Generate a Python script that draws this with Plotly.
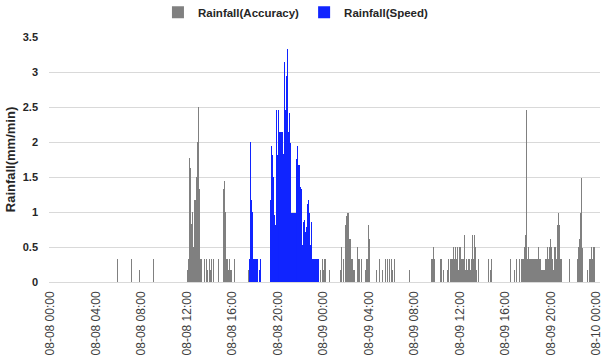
import pandas as pd
import plotly.graph_objects as go

YEAR = "2021"

# Rainfall(Accuracy): runs of consecutive 5-minute readings (start, values)
acc_run_start = [
    "08-08 05:55", "08-08 07:05", "08-08 07:50", "08-08 09:05",
    "08-08 12:05", "08-08 13:30", "08-08 13:45", "08-08 14:00",
    "08-08 14:20", "08-08 14:45", "08-08 15:15", "08-08 16:10",
    "08-08 17:25", "08-08 23:45", "08-08 23:55", "08-09 00:30",
    "08-09 01:30", "08-09 03:00", "08-09 03:40", "08-09 04:40",
    "08-09 04:55", "08-09 05:10", "08-09 05:25", "08-09 05:35",
    "08-09 05:50", "08-09 06:00", "08-09 06:15", "08-09 07:35",
    "08-09 09:30", "08-09 10:15", "08-09 10:35", "08-09 10:55",
    "08-09 13:40", "08-09 14:30", "08-09 14:40", "08-09 16:25",
    "08-09 16:45", "08-09 17:00", "08-09 17:15", "08-09 17:25",
    "08-09 21:40", "08-09 22:20", "08-09 23:15", "08-09 23:25",
]
acc_run_values = [
    [0.33], [0.33], [0.17], [0.33],
    [0.17, 0.33, 1.77, 1.63, 0.83, 1.0, 0.5, 1.17, 1.17, 1.5, 2.0, 2.5, 1.33, 0.33, 0.33],
    [0.33], [0.33, 0.17], [0.33, 0.17, 0.33],
    [0.33], [0.33],
    [1.33, 1.45, 1.0, 0.33, 0.33, 0.17, 0.33, 0.17, 0.17],
    [0.33],
    [0.17], [0.17], [0.33, 0.17, 0.33, 0.33], [0.17],
    [0.17, 0.5, 0, 0.33, 0, 0.81, 0.95, 0.98, 0.98, 0.62, 0.62, 0.17, 0.33, 0.33, 0.17, 0.17],
    [0.5, 0.33, 0.33, 0, 0.33],
    [0.17, 0.33, 0.33, 0.81, 0.62],
    [0.17],
    [0.33], [0.17], [0.33], [0.33, 0.17],
    [0.33], [0.33, 0.17], [0.33], [0.17],
    [0.33, 0.33, 0.5, 0.33], [0.33, 0.33], [0.17],
    [0.17, 0.33, 0, 0.33, 0.33, 0.33, 0.5, 0.33, 0.5, 0.33, 0.5, 0.17, 0.33, 0.5, 0.5, 0.33,
     0.33, 0.33, 0.67, 0.17, 0.33, 0.17, 0.33, 0.33, 0.17, 0.33, 0.67, 0.33, 0.67, 0.5, 0.17],
    [0.33], [0.33], [0.17, 0.33], [0.33],
    [0.17], [0.33], [0.33],
    [0.33, 0.33, 0.33, 0.5, 0.67, 2.46, 0.33, 0.5, 0.33, 0.33, 0.33, 0.33, 0.33, 0.33, 0.33,
     0.33, 0.33, 0.33, 0.5, 0.33, 0.33, 0.17, 0.17, 0.17, 0.17, 0.33, 0.33, 0.5, 0.33, 0.5,
     0.62, 0.5, 0.5, 0.33, 0.17, 0.5, 0.5, 0.33, 0.81, 0.98, 0.81, 0.33, 0.33],
    [0.33], [0.33, 0.5, 0.62, 0.98, 1.49, 0.48], [0.17],
    [0.33, 0.33, 0.5, 0.33, 0.5, 0.5],
]

# Rainfall(Speed): runs of consecutive 5-minute readings (start, values)
spd_run_start = ["08-08 17:30", "08-08 18:25", "08-08 19:20"]
spd_run_values = [
    [0.33, 2.0, 1.17, 1.0, 0.33, 0.33, 0.33, 0.33, 0.33],
    [0.17, 0.33],
    [1.17, 1.95, 1.81, 1.5, 0.96, 0.81, 2.46, 1.81, 2.15, 2.46, 2.15, 2.15, 2.15, 2.15,
     1.83, 3.15, 2.46, 2.95, 3.33, 2.15, 2.41, 1.98, 0.98, 0.98, 0.98, 0.98, 0.98, 1.67,
     1.76, 1.95, 1.67, 1.67, 1.36, 1.33, 0.53, 0.86, 0.88, 0.72, 0.79, 1.12, 1.17, 0.98,
     0.53, 0.86, 0.33, 0.33, 0.33, 0.17, 0.33, 0.33, 0.33, 0.33],
]

series_names = ["Rainfall(Accuracy)", "Rainfall(Speed)"]
series_colors = ["rgba(127,127,127,0.995)", "rgba(15,35,255,0.995)"]


def expand(starts, runs):
    times, vals = [], []
    for s, run in zip(starts, runs):
        ts = pd.date_range(pd.Timestamp(f"{YEAR}-{s}"), periods=len(run), freq="5min")
        times.extend(ts)
        vals.extend(run)
    return times, vals


acc_t, acc_v = expand(acc_run_start, acc_run_values)
spd_t, spd_v = expand(spd_run_start, spd_run_values)

x_start = pd.Timestamp(f"{YEAR}-08-07 23:52:05")
x_end = pd.Timestamp(f"{YEAR}-08-10 00:18:30")
plot_px = 551
bar_ms = (x_end - x_start).total_seconds() * 1000 / plot_px

FONT = "Liberation Sans, Arial, sans-serif"

fig = go.Figure()
for (t, v), name, col in zip([(acc_t, acc_v), (spd_t, spd_v)], series_names, series_colors):
    fig.add_trace(go.Bar(x=t, y=v, name=name, width=bar_ms,
                         marker=dict(color=col, line=dict(width=0))))

fig.update_layout(
    width=604, height=358,
    margin=dict(l=49, r=4, t=37, b=76, autoexpand=False),
    paper_bgcolor="white", plot_bgcolor="white",
    barmode="overlay", bargap=0,
    font=dict(family=FONT, color="#333333"),
    showlegend=True,
    legend=dict(orientation="h", xref="container", yref="container",
                x=0.49, xanchor="center", y=0.966, yanchor="middle",
                font=dict(size=11.5, family=FONT, color="#262626", weight="bold"),
                itemwidth=30, bgcolor="rgba(0,0,0,0)"),
    xaxis=dict(
        type="date", range=[x_start, x_end], automargin=False,
        tick0=f"{YEAR}-08-08 00:00", dtick=4 * 3600 * 1000,
        tickformat="%m-%d %H:%M", tickangle=-90,
        tickfont=dict(size=12, color="#404040"),
        showgrid=False, showline=False, zeroline=False, ticks="",
        ticklabelstandoff=6,
    ),
    yaxis=dict(
        range=[0, 3.5], dtick=0.5, tick0=0, automargin=False,
        showgrid=True, gridcolor="#D9D9D9", gridwidth=1,
        zeroline=True, zerolinecolor="#D9D9D9", zerolinewidth=1,
        showline=False, ticks="",
        tickfont=dict(size=11, color="#262626", weight="bold"),
        ticklabelstandoff=10,
        title=dict(text="Rainfall(mm/min)", standoff=4,
                   font=dict(size=13, color="#262626", weight="bold")),
    ),
)

fig.write_html("out.html", config={"displayModeBar": False},
               post_script="document.body.style.margin='0';")
